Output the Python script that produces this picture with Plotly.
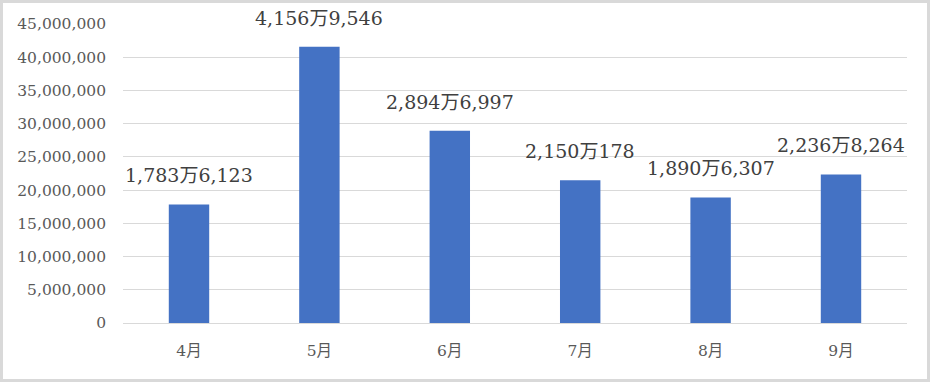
import plotly.graph_objects as go

months = ["4月", "5月", "6月", "7月", "8月", "9月"]
values = [17836123, 41569546, 28946997, 21500178, 18906307, 22368264]
labels = ["1,783万6,123", "4,156万9,546", "2,894万6,997", "2,150万178", "1,890万6,307", "2,236万8,264"]
y_ticks = list(range(0, 45000001, 5000000))
y_tick_text = [f"{v:,}" for v in y_ticks]

W, H = 930, 382
ML, MR, MT, MB = 123, 23, 24, 59
pw, ph = W - ML - MR, H - MT - MB

SERIF = "DejaVu Serif, Noto Sans CJK JP, serif"

fig = go.Figure()
fig.add_trace(go.Bar(x=months, y=values, marker=dict(color="#4472C4", line=dict(width=0)),
                     hoverinfo="skip"))

for m, v, t in zip(months, values, labels):
    fig.add_annotation(x=m, y=v, text=t, showarrow=False, yanchor="bottom",
                       yshift=16, font=dict(family=SERIF, size=19, color="#404040"))

fig.add_shape(type="rect", xref="paper", yref="paper",
              x0=(1.5 - ML) / pw, x1=(W - 1.5 - ML) / pw,
              y0=-(H - 1.5 - MT - ph) / ph, y1=1 + (MT - 1.5) / ph,
              line=dict(color="#d9d9d9", width=3), layer="below")

fig.update_layout(
    width=W, height=H, margin=dict(l=ML, r=MR, t=MT, b=MB),
    paper_bgcolor="white", plot_bgcolor="white",
    bargap=0.69, showlegend=False,
    font=dict(family=SERIF, color="#595959"),
    xaxis=dict(showgrid=False, showline=False, ticks="", ticklen=0,
               tickfont=dict(family=SERIF, size=15.5, color="#595959"),
               ticklabelstandoff=16),
    yaxis=dict(range=[0, 45000000], tickvals=y_ticks, ticktext=y_tick_text,
               showgrid=True, gridcolor="#d9d9d9", gridwidth=1,
               zeroline=True, zerolinecolor="#d9d9d9", zerolinewidth=1,
               showline=False, tickfont=dict(family=SERIF, size=15.5, color="#595959"),
               ticklabelstandoff=16),
)

fig.write_html("out.html", config={"displayModeBar": False},
               post_script="document.body.style.margin='0';document.body.style.overflow='hidden';")
